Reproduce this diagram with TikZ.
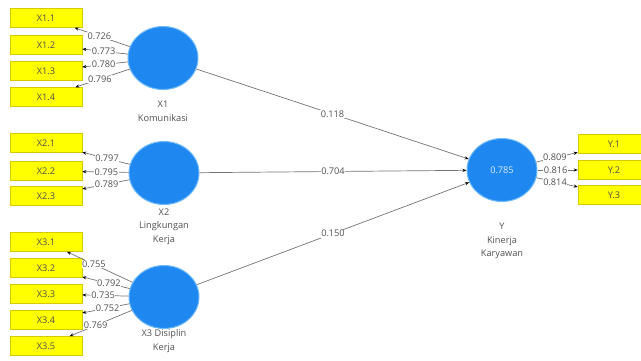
\documentclass[tikz,border=0pt]{standalone}
\usepackage{fontspec}
\setmainfont{Open Sans}
\usetikzlibrary{shapes.geometric,arrows.meta}
\definecolor{plsblue}{RGB}{30,136,240}
\definecolor{plsrim}{RGB}{110,185,250}
\definecolor{plsyellow}{RGB}{255,255,0}
\definecolor{plsgold}{RGB}{215,200,0}
\definecolor{plstext}{RGB}{80,80,80}

\begin{document}
\begin{tikzpicture}[
	x=1pt,y=-1pt,
	font=\fontsize{9.2}{13.5}\selectfont,
	latent/.style={ellipse,fill=plsblue,draw=plsrim,line width=1pt,minimum width=70pt,minimum height=63pt,inner sep=0pt},
	indicator/.style={rectangle,fill=plsyellow,draw=plsgold,line width=0.6pt,minimum width=72pt,minimum height=19pt,inner sep=0pt,text=plstext},
	caption/.style={align=center,text=plstext},
	loading/.style={draw=gray!90!black,line width=0.7pt,-{Stealth[length=4pt,width=3.2pt,color=black]}},
	coef/.style={fill=white,inner sep=0.6pt,text=plstext}]
\useasboundingbox (0,0) rectangle (641,360);
\clip (0,0) rectangle (641,360);

\node[latent] (kom) at (163,58) {};
\node[caption] (komlbl) at (163,111.5) {X1\\Komunikasi};
\node[latent] (ling) at (164,173) {};
\node[caption] (linglbl) at (164,226.5) {X2\\Lingkungan\\Kerja};
\node[latent] (dis) at (164,297) {};
\node[caption] (dislbl) at (164,341) {X3 Disiplin\\Kerja};
\node[latent,text=white!85!plsblue] (kin) at (502,170) {0.785};
\node[caption] (kinlbl) at (502,241) {Y\\Kinerja\\Karyawan};

\node[indicator] (x11) at (46,18) {X1.1};
\node[indicator] (x12) at (46,45) {X1.2};
\node[indicator] (x13) at (46,71) {X1.3};
\node[indicator] (x14) at (46,97) {X1.4};
\node[indicator] (x21) at (46,143) {X2.1};
\node[indicator] (x22) at (46,171) {X2.2};
\node[indicator] (x23) at (46,196) {X2.3};
\node[indicator] (x31) at (46,242) {X3.1};
\node[indicator] (x32) at (46,268) {X3.2};
\node[indicator] (x33) at (46,294) {X3.3};
\node[indicator] (x34) at (46,320) {X3.4};
\node[indicator] (x35) at (46,346) {X3.5};
\node[indicator] (y1) at (614,144) {Y.1};
\node[indicator] (y2) at (614,170) {Y.2};
\node[indicator] (y3) at (614,195) {Y.3};

\draw[loading] (kom) -- node[coef,pos=.55] {0.726} (x11);
\draw[loading] (kom) -- node[coef,pos=.53] {0.773} (x12);
\draw[loading] (kom) -- node[coef,pos=.53] {0.780} (x13);
\draw[loading] (kom) -- node[coef,pos=.55] {0.796} (x14);

\draw[loading] (ling) -- node[coef,pos=.48] {0.797} (x21);
\draw[loading] (ling) -- node[coef,pos=.48] {0.795} (x22);
\draw[loading] (ling) -- node[coef,pos=.48] {0.789} (x23);

\draw[loading] (dis) -- node[coef,pos=.59] {0.755} (x31);
\draw[loading] (dis) -- node[coef,pos=.44] {0.792} (x32);
\draw[loading] (dis) -- node[coef,pos=.55] {0.735} (x33);
\draw[loading] (dis) -- node[coef,pos=.46] {0.752} (x34);
\draw[loading] (dis) -- node[coef,pos=.58] {0.769} (x35);

\draw[loading] (kin) -- node[coef,pos=.45] {0.809} (y1);
\draw[loading] (kin) -- node[coef,pos=.45] {0.816} (y2);
\draw[loading] (kin) -- node[coef,pos=.45] {0.814} (y3);

\draw[loading] (kom) -- node[coef,pos=.5] {0.118} (kin);
\draw[loading] (ling) -- node[coef,pos=.5] {0.704} (kin);
\draw[loading] (dis) -- node[coef,pos=.5] {0.150} (kin);
\end{tikzpicture}
\end{document}
